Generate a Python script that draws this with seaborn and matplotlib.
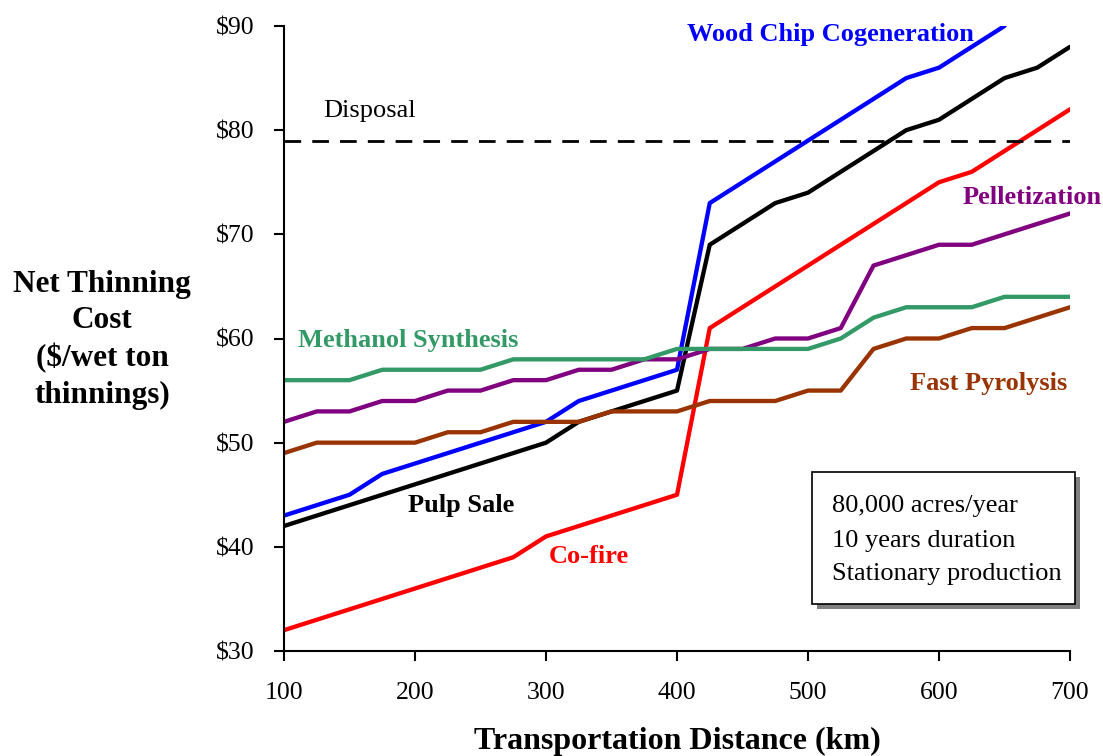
import numpy as np
import pandas as pd
import matplotlib
matplotlib.use("Agg")
import matplotlib.pyplot as plt
import seaborn as sns
from matplotlib.patches import Rectangle

distance = list(range(100, 701, 25))

wood_chip = [43, 44, 45, 47, 48, 49, 50, 51, 52, 54, 55, 56, 57,
             73, 75, 77, 79, 81, 83, 85, 86, 88, 90, np.nan, np.nan]
pulp_sale = [42, 43, 44, 45, 46, 47, 48, 49, 50, 52, 53, 54, 55,
             69, 71, 73, 74, 76, 78, 80, 81, 83, 85, 86, 88]
co_fire = [32, 33, 34, 35, 36, 37, 38, 39, 41, 42, 43, 44, 45,
           61, 63, 65, 67, 69, 71, 73, 75, 76, 78, 80, 82]
pelletization = [52, 53, 53, 54, 54, 55, 55, 56, 56, 57, 57, 58, 58,
                 59, 59, 60, 60, 61, 67, 68, 69, 69, 70, 71, 72]
methanol = [56, 56, 56, 57, 57, 57, 57, 58, 58, 58, 58, 58, 59,
            59, 59, 59, 59, 60, 62, 63, 63, 63, 64, 64, 64]
fast_pyrolysis = [49, 50, 50, 50, 50, 51, 51, 52, 52, 52, 53, 53, 53,
                  54, 54, 54, 55, 55, 59, 60, 60, 61, 61, 62, 63]
disposal = [79] * len(distance)

series_names = ["Wood Chip Cogeneration", "Pulp Sale", "Co-fire",
                "Pelletization", "Methanol Synthesis", "Fast Pyrolysis"]
series_values = [wood_chip, pulp_sale, co_fire, pelletization, methanol, fast_pyrolysis]
colors = ["#0000FF", "#000000", "#FF0000", "#800080", "#339966", "#993300"]

y_ticks = [30, 40, 50, 60, 70, 80, 90]
x_ticks = [100, 200, 300, 400, 500, 600, 700]

rows = []
for name, vals in zip(series_names, series_values):
    for d, v in zip(distance, vals):
        rows.append({"Distance": d, "Cost": v, "Process": name})
df = pd.DataFrame(rows)
df_disp = pd.DataFrame({"Distance": distance, "Cost": disposal})

sns.set_theme(style="ticks")
plt.rcParams["font.family"] = ["Liberation Serif", "DejaVu Serif"]
plt.rcParams["text.color"] = "black"
plt.rcParams["axes.labelcolor"] = "black"

fig = plt.figure(figsize=(11.03, 7.56), dpi=100)
ax = fig.add_axes([284 / 1103, 105 / 756, 786 / 1103, 625 / 756])

sns.lineplot(data=df, x="Distance", y="Cost", hue="Process",
             palette=dict(zip(series_names, colors)), linewidth=3.1,
             legend=False, ax=ax)
sns.lineplot(data=df_disp, x="Distance", y="Cost", color="black",
             linewidth=2, linestyle=(0, (6, 4)), legend=False, ax=ax)

ax.set_xlim(100, 700)
ax.set_ylim(30, 90)
ax.set_xticks(x_ticks)
ax.set_yticks(y_ticks)
ax.set_yticklabels([f"${v}" for v in y_ticks])
ax.tick_params(axis="both", labelsize=18.5, length=7, width=1.5, direction="out",
               colors="black")
ax.tick_params(axis="x", pad=15)
ax.tick_params(axis="y", pad=14)
for s in ["top", "right"]:
    ax.spines[s].set_visible(False)
for s in ["left", "bottom"]:
    ax.spines[s].set_linewidth(1.5)
    ax.spines[s].set_color("black")

ax.set_xlabel("")
ax.set_ylabel("")
fig.text(677 / 1103, 1 - 741 / 756, "Transportation Distance (km)",
         ha="center", va="center", fontsize=23, fontweight="bold")
fig.text(102 / 1103, 1 - 340 / 756, "Net Thinning\nCost\n($/wet ton\nthinnings)",
         ha="center", va="center", fontsize=22.5, fontweight="bold",
         linespacing=1.33)

label_specs = [
    ("Wood Chip Cogeneration", 408, 89.2, "#0000FF", "bold"),
    ("Disposal", 130, 81.8, "#000000", "normal"),
    ("Pelletization", 618, 73.5, "#800080", "bold"),
    ("Methanol Synthesis", 111, 59.8, "#339966", "bold"),
    ("Fast Pyrolysis", 578, 55.7, "#993300", "bold"),
    ("Pulp Sale", 195, 44.0, "#000000", "bold"),
    ("Co-fire", 302, 39.1, "#FF0000", "bold"),
]
for txt, x, y, c, w in label_specs:
    ax.text(x, y, txt, color=c, fontsize=19, fontweight=w, ha="left", va="center")

# info box with shadow
bx, by, bw, bh = (812 - 284) / 786, (651 - 604) / 625, (1075 - 812) / 786, (604 - 472) / 625
dx, dy = 5 / 786, 5 / 625
ax.add_patch(Rectangle((bx + dx, by - dy), bw, bh, transform=ax.transAxes,
                       facecolor="#808080", edgecolor="none", clip_on=False, zorder=5))
ax.add_patch(Rectangle((bx, by), bw, bh, transform=ax.transAxes,
                       facecolor="white", edgecolor="black", linewidth=1.2,
                       clip_on=False, zorder=6))
box_lines = ["80,000 acres/year", "10 years duration", "Stationary production"]
for i, line in enumerate(box_lines):
    ypix = [506, 541, 574][i]
    ax.text((832 - 284) / 786, (651 - ypix) / 625, line, transform=ax.transAxes,
            fontsize=19, ha="left", va="center", zorder=7)

fig.savefig("out.png", dpi=100)
